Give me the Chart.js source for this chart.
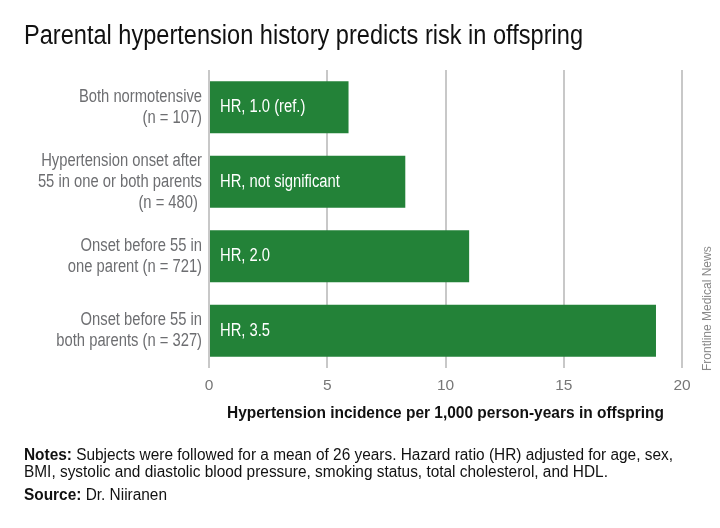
<!DOCTYPE html>
<html>
<head>
<meta charset="utf-8">
<script src="https://cdn.jsdelivr.net/npm/chart.js@4/dist/chart.umd.min.js"></script>
<style>
  html, body { margin: 0; padding: 0; background: #fff; }
  body { width: 720px; height: 528px; position: relative; overflow: hidden;
         font-family: 'Liberation Sans', Arial, sans-serif; }
  #wrap { position: absolute; left: 0; top: 0; width: 720px; height: 528px; }
  .cond { position: absolute; white-space: nowrap; transform-origin: 0 0; color: #111; }
  #title { left: 24px; top: 22px; font-size: 27px; line-height: 27px; }
  #notes { left: 24px; top: 446px; font-size: 16px; line-height: 17px; }
  #source { left: 24px; top: 486px; font-size: 16px; line-height: 17px; }
  #credit { position: absolute; left: 700px; top: 371px; font-size: 12px; color: #888; white-space: nowrap;
            transform-origin: 0 0; transform: rotate(-90deg); }
</style>
</head>
<body>
<div id="wrap"><canvas id="c" width="720" height="528"></canvas></div>
<div id="title" class="cond">Parental hypertension history predicts risk in offspring</div>
<div id="notes" class="cond"><span id="n1"><b>Notes:</b> Subjects were followed for a mean of 26 years. Hazard ratio (HR) adjusted for age, sex,</span><br>BMI, systolic and diastolic blood pressure, smoking status, total cholesterol, and HDL.</div>
<div id="source" class="cond"><b>Source:</b> Dr. Niiranen</div>
<div id="credit">Frontline Medical News</div>
<script>
const categories = [
  ["Both normotensive", "(n = 107)"],
  ["Hypertension onset after", "55 in one or both parents", "(n = 480) "],
  ["Onset before 55 in", "one parent (n = 721)"],
  ["Onset before 55 in", "both parents (n = 327)"]
];
const incidence = [5.9, 8.3, 11.0, 18.9];
const hrLabels = ["HR, 1.0 (ref.)", "HR, not significant", "HR, 2.0", "HR, 3.5"];
const xTicks = [0, 5, 10, 15, 20];
const xTitle = 'Hypertension incidence per 1,000 person-years in offspring';

const FONT = "'Liberation Sans', Arial, sans-serif";

// condense HTML texts horizontally to the reference widths
function fitWidth(el, target) {
  const w = el.getBoundingClientRect().width;
  el.style.transform = 'scaleX(' + (target / w) + ')';
}
fitWidth(document.getElementById('title'), 559);
(function () {
  const n1 = document.getElementById('n1');
  const s = 649 / n1.getBoundingClientRect().width;
  document.getElementById('notes').style.transform = 'scaleX(' + s + ')';
  document.getElementById('source').style.transform = 'scaleX(' + s + ')';
})();

function condText(ctx, text, x, y, align, sx) {
  ctx.save();
  ctx.translate(x, y);
  ctx.scale(sx, 1);
  ctx.textAlign = align;
  ctx.fillText(text, 0, 0);
  ctx.restore();
}

const textPlugin = {
  id: 'condensedText',
  afterDatasetsDraw(chart) {
    const ctx = chart.ctx;
    const meta = chart.getDatasetMeta(0);
    const ys = chart.scales.y;
    const xs = chart.scales.x;
    ctx.save();
    ctx.textBaseline = 'middle';
    // bar labels
    ctx.fillStyle = '#ffffff';
    ctx.font = '18px ' + FONT;
    meta.data.forEach((bar, i) => condText(ctx, hrLabels[i], bar.base + 10, bar.y, 'left', 0.82));
    // category labels
    ctx.fillStyle = '#6d6e71';
    const lh = 21;
    categories.forEach((lines, i) => {
      const cy = ys.getPixelForTick(i);
      const y0 = cy - (lines.length - 1) * lh / 2;
      lines.forEach((ln, j) => condText(ctx, ln, ys.right - 7, y0 + j * lh, 'right', 0.82));
    });
    // x axis title
    ctx.fillStyle = '#111111';
    ctx.font = 'bold 16.5px ' + FONT;
    ctx.textBaseline = 'alphabetic';
    const tw = ctx.measureText(xTitle).width;
    condText(ctx, xTitle, (xs.left + xs.right) / 2, xs.top + 50, 'center', 437 / tw);
    ctx.restore();
  }
};

new Chart(document.getElementById('c'), {
  type: 'bar',
  data: {
    labels: categories,
    datasets: [{
      data: incidence,
      backgroundColor: '#238238',
      borderWidth: 0,
      barPercentage: 0.7,
      categoryPercentage: 1.0
    }]
  },
  options: {
    indexAxis: 'y',
    responsive: false,
    animation: false,
    events: [],
    layout: { padding: { top: 70, right: 38, bottom: 100, left: 0 } },
    plugins: { legend: { display: false }, tooltip: { enabled: false }, title: { display: false } },
    scales: {
      x: {
        min: 0, max: 20,
        afterBuildTicks(scale) { scale.ticks = xTicks.map(v => ({ value: v })); },
        afterFit(scale) { scale.height = 60; },
        grid: { color: '#c8c8c8', lineWidth: 2, drawTicks: false },
        border: { display: false },
        ticks: { color: '#777777', font: { family: FONT, size: 15.5 }, padding: 8 }
      },
      y: {
        afterFit(scale) { scale.width = 209; },
        grid: { display: false, drawTicks: false },
        border: { display: false },
        ticks: { display: false }
      }
    }
  },
  plugins: [textPlugin]
});
</script>
</body>
</html>
